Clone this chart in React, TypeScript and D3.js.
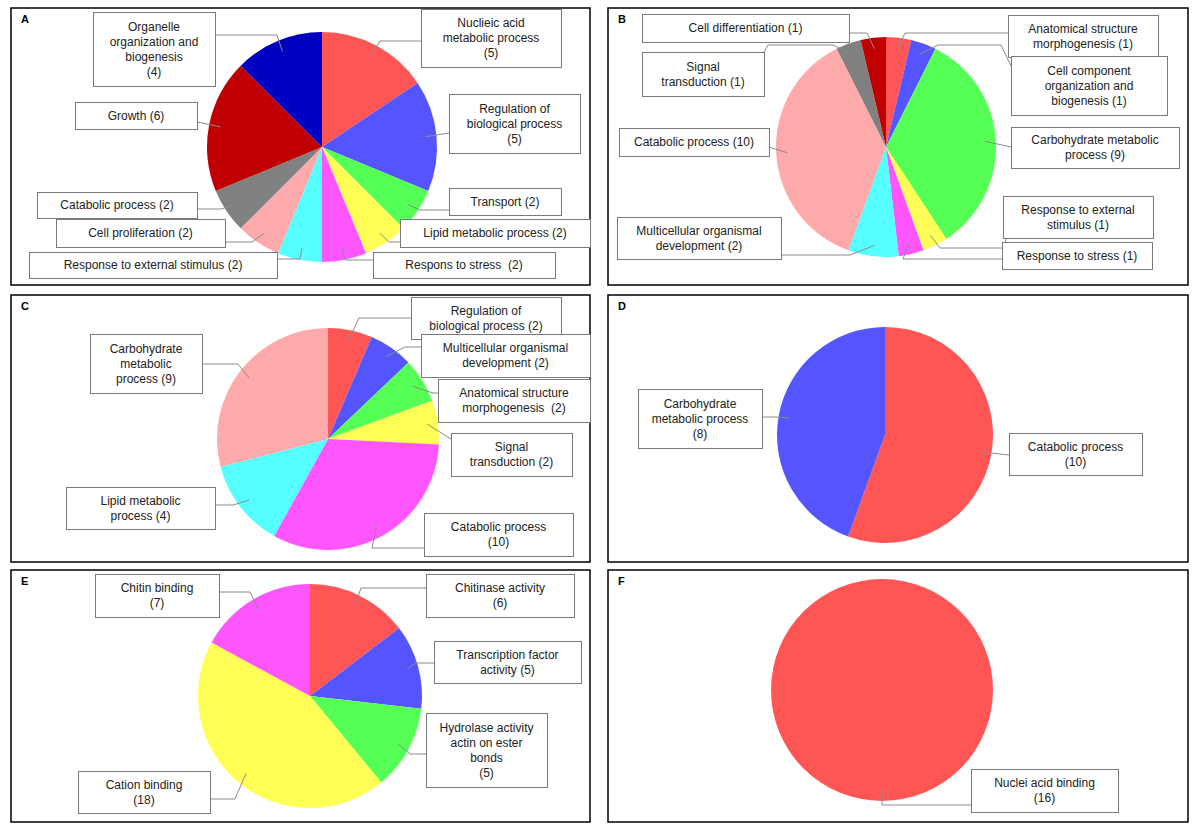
import React from "react";
import * as d3 from "d3";

// ---------- DATA ----------
const catsA = ["Nuclieic acid metabolic process", "Regulation of biological process", "Transport", "Lipid metabolic process", "Respons to stress", "Response to external stimulus", "Cell proliferation", "Catabolic process", "Growth", "Organelle organization and biogenesis"];
const valsA = [5, 5, 2, 2, 2, 2, 2, 2, 6, 4];

const catsB = ["Anatomical structure morphogenesis", "Cell component organization and biogenesis", "Carbohydrate metabolic process", "Response to external stimulus", "Response to stress", "Multicellular organismal development", "Catabolic process", "Signal transduction", "Cell differentiation"];
const valsB = [1, 1, 9, 1, 1, 2, 10, 1, 1];

const catsC = ["Regulation of biological process", "Multicellular organismal development", "Anatomical structure morphogenesis", "Signal transduction", "Catabolic process", "Lipid metabolic process", "Carbohydrate metabolic process"];
const valsC = [2, 2, 2, 2, 10, 4, 9];

const catsD = ["Catabolic process", "Carbohydrate metabolic process"];
const valsD = [10, 8];

const catsE = ["Chitinase activity", "Transcription factor activity", "Hydrolase activity actin on ester bonds", "Cation binding", "Chitin binding"];
const valsE = [6, 5, 5, 18, 7];

const catsF = ["Nuclei acid binding"];
const valsF = [16];

const panelLetters = ["A", "B", "C", "D", "E", "F"];

// ---------- STYLE ----------
const C = {
  red: "#ff5555", blue: "#5555ff", green: "#55ff55", yellow: "#ffff55",
  magenta: "#ff55ff", cyan: "#55ffff", pink: "#ffaaaa", gray: "#808080",
  darkred: "#c00000", navy: "#0000c0",
};
const colorsA = [C.red, C.blue, C.green, C.yellow, C.magenta, C.cyan, C.pink, C.gray, C.darkred, C.navy];
const colorsB = [C.red, C.blue, C.green, C.yellow, C.magenta, C.cyan, C.pink, C.gray, C.darkred];
const colorsC = [C.red, C.blue, C.green, C.yellow, C.magenta, C.cyan, C.pink];
const colorsD = [C.red, C.blue];
const colorsE = [C.red, C.blue, C.green, C.yellow, C.magenta];
const colorsF = [C.red];

// ---------- LAYOUT ----------
type Pt = [number, number];
type Lbl = { box: [number, number, number, number]; lines: string[]; route: Pt[] };
type Panel = { frame: [number, number, number, number]; cx: number; cy: number; r: number; cats: string[]; vals: number[]; colors: string[]; labels: Lbl[] };

const layoutA: Lbl[] = [
  { box: [421, 9, 140, 58], lines: ["Nuclieic acid", "metabolic process", "({v})"], route: [[421, 41], [380, 41]] },
  { box: [449, 94, 131, 59], lines: ["Regulation of", "biological process", "({v})"], route: [[449, 133]] },
  { box: [449, 188, 112, 27], lines: ["Transport ({v})"], route: [[449, 210], [420, 210]] },
  { box: [400, 219, 190, 28], lines: ["Lipid metabolic process ({v})"], route: [[400, 242], [389, 242]] },
  { box: [373, 252, 182, 26], lines: ["Respons to stress  ({v})"], route: [[373, 260], [345, 260]] },
  { box: [29, 252, 248, 26], lines: ["Response to external stimulus ({v})"], route: [[277, 259], [300, 259]] },
  { box: [56, 219, 169, 28], lines: ["Cell proliferation ({v})"], route: [[225, 242], [252, 242]] },
  { box: [37, 192, 160, 26], lines: ["Catabolic process ({v})"], route: [[197, 209], [221, 209]] },
  { box: [75, 102, 122, 27], lines: ["Growth ({v})"], route: [[197, 122]] },
  { box: [93, 12, 122, 74], lines: ["Organelle", "organization and", "biogenesis", "({v})"], route: [[215, 35], [277, 35]] },
];
const layoutB: Lbl[] = [
  { box: [1008, 15, 150, 42], lines: ["Anatomical structure", "morphogenesis ({v})"], route: [[1008, 33], [905, 33]] },
  { box: [1011, 56, 156, 59], lines: ["Cell component", "organization and", "biogenesis ({v})"], route: [[1012, 68], [1001, 45], [938, 45]] },
  { box: [1011, 127, 168, 41], lines: ["Carbohydrate metabolic", "process ({v})"], route: [[1011, 147]] },
  { box: [1003, 196, 150, 42], lines: ["Response to external", "stimulus ({v})"], route: [[1006, 238], [1005, 248], [940, 248]] },
  { box: [1002, 242, 150, 27], lines: ["Response to stress ({v})"], route: [[1002, 259], [903, 259]] },
  { box: [617, 217, 164, 42], lines: ["Multicellular organismal", "development ({v})"], route: [[781, 255], [850, 255]] },
  { box: [619, 128, 150, 28], lines: ["Catabolic process ({v})"], route: [[769, 147]] },
  { box: [642, 52, 122, 44], lines: ["Signal", "transduction ({v})"], route: [[764, 52], [768, 45], [833, 45]] },
  { box: [642, 14, 207, 28], lines: ["Cell differentiation ({v})"], route: [[849, 33], [867, 33]] },
];
const layoutC: Lbl[] = [
  { box: [411, 297, 150, 42], lines: ["Regulation of", "biological process ({v})"], route: [[411, 318], [359, 318]] },
  { box: [421, 334, 169, 43], lines: ["Multicellular organismal", "development ({v})"], route: [[421, 347], [405, 347]] },
  { box: [438, 379, 152, 43], lines: ["Anatomical structure", "morphogenesis  ({v})"], route: [[438, 393], [433, 393]] },
  { box: [451, 433, 121, 43], lines: ["Signal", "transduction ({v})"], route: [[451, 439]] },
  { box: [424, 513, 149, 43], lines: ["Catabolic process", "({v})"], route: [[424, 548], [372, 548]] },
  { box: [66, 487, 149, 42], lines: ["Lipid metabolic", "process ({v})"], route: [[215, 505], [233, 505]] },
  { box: [90, 334, 112, 59], lines: ["Carbohydrate", "metabolic", "process ({v})"], route: [[202, 364], [238, 364]] },
];
const layoutD: Lbl[] = [
  { box: [1009, 433, 133, 42], lines: ["Catabolic process", "({v})"], route: [[1009, 455]] },
  { box: [638, 389, 124, 59], lines: ["Carbohydrate", "metabolic process", "({v})"], route: [[762, 417], [774, 417]] },
];
const layoutE: Lbl[] = [
  { box: [426, 574, 148, 43], lines: ["Chitinase activity", "({v})"], route: [[426, 588], [361, 588]] },
  { box: [434, 641, 147, 42], lines: ["Transcription factor", "activity ({v})"], route: [[434, 663], [416, 663]] },
  { box: [426, 713, 121, 74], lines: ["Hydrolase activity", "actin on ester", "bonds", "({v})"], route: [[426, 754], [410, 754]] },
  { box: [78, 771, 132, 42], lines: ["Cation binding", "({v})"], route: [[210, 799], [235, 799]] },
  { box: [95, 574, 124, 43], lines: ["Chitin binding", "({v})"], route: [[219, 592], [250, 592]] },
];
const layoutF: Lbl[] = [
  { box: [971, 769, 147, 43], lines: ["Nuclei acid binding", "({v})"], route: [[971, 805], [882, 805]] },
];

const panels: Panel[] = [
  { frame: [11, 8, 579, 277], cx: 322, cy: 147, r: 115, cats: catsA, vals: valsA, colors: colorsA, labels: layoutA },
  { frame: [608, 8, 580, 277], cx: 886, cy: 147, r: 110, cats: catsB, vals: valsB, colors: colorsB, labels: layoutB },
  { frame: [11, 295, 579, 267], cx: 328, cy: 439, r: 111, cats: catsC, vals: valsC, colors: colorsC, labels: layoutC },
  { frame: [608, 295, 580, 267], cx: 885, cy: 435, r: 108, cats: catsD, vals: valsD, colors: colorsD, labels: layoutD },
  { frame: [11, 570, 579, 252], cx: 310, cy: 696, r: 112, cats: catsE, vals: valsE, colors: colorsE, labels: layoutE },
  { frame: [608, 570, 580, 252], cx: 882, cy: 690, r: 111, cats: catsF, vals: valsF, colors: colorsF, labels: layoutF },
];

const FONT = "'Liberation Sans', Arial, sans-serif";

function PiePanel({ p, letter }: { p: Panel; letter: string }) {
  const pie = d3.pie<number>().sort(null).value((d) => d);
  const arcs = pie(p.vals);
  const arc = d3.arc<d3.PieArcDatum<number>>().innerRadius(0).outerRadius(p.r);
  const anchorArc = d3.arc<d3.PieArcDatum<number>>().innerRadius(p.r * 0.9).outerRadius(p.r * 0.9);
  const line = d3.line();
  const [fx, fy, fw, fh] = p.frame;
  return (
    <g>
      <rect x={fx} y={fy} width={fw} height={fh} fill="#fff" stroke="#000" strokeWidth={1.5} />
      <text x={fx + 10} y={fy + 15} fontFamily={FONT} fontSize={11} fontWeight="bold" fill="#000">{letter}</text>
      <g transform={`translate(${p.cx},${p.cy})`}>
        {arcs.map((a, i) => (
          <path key={i} d={arc(a) || ""} fill={p.colors[i]} />
        ))}
      </g>
      {p.labels.map((lb, i) => {
        const c = anchorArc.centroid(arcs[i]);
        const anchor: Pt = [p.cx + c[0], p.cy + c[1]];
        const pts: Pt[] = [...lb.route, anchor];
        return <path key={"l" + i} d={line(pts) || ""} fill="none" stroke="#8a8a8a" strokeWidth={1} />;
      })}
      {p.labels.map((lb, i) => {
        const [bx, by, bw, bh] = lb.box;
        const n = lb.lines.length;
        const lh = 15;
        const midY = by + bh / 2;
        return (
          <g key={"b" + i}>
            <rect x={bx + 0.5} y={by + 0.5} width={bw} height={bh} fill="#fff" stroke="#7a7a7a" strokeWidth={1} />
            {lb.lines.map((t, k) => (
              <text
                key={k}
                x={bx + bw / 2}
                y={midY + (k - (n - 1) / 2) * lh + 4.3}
                textAnchor="middle"
                fontFamily={FONT}
                fontSize={12}
                fill="#222"
                style={{ whiteSpace: "pre" }}
              >
                {t.replace("{v}", String(p.vals[i]))}
              </text>
            ))}
          </g>
        );
      })}
    </g>
  );
}

export default function App() {
  return (
    <svg
      width={1200}
      height={831}
      viewBox="0 0 1200 831"
      style={{ position: "absolute", left: 0, top: 0, background: "#fff" }}
    >
      <rect x={0} y={0} width={1200} height={831} fill="#fff" />
      {panels.map((p, i) => (
        <PiePanel key={i} p={p} letter={panelLetters[i]} />
      ))}
    </svg>
  );
}
